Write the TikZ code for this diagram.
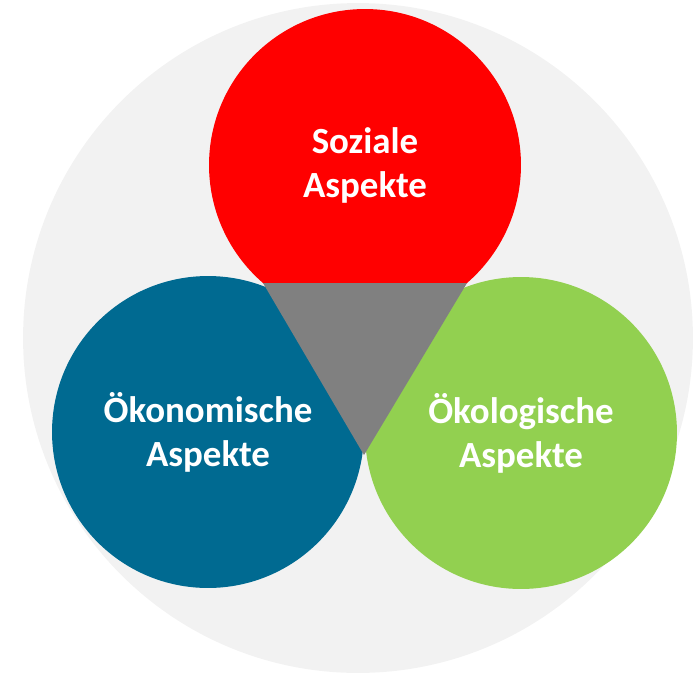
\documentclass[tikz,border=0pt]{standalone}
\usepackage{fontspec}
\setmainfont{Carlito}

\definecolor{sozred}{RGB}{255,0,0}
\definecolor{oekblue}{RGB}{0,106,145}
\definecolor{oekgreen}{RGB}{146,208,80}
\definecolor{midgray}{RGB}{128,128,128}
\definecolor{bggray}{RGB}{242,242,242}

\begin{document}
\begin{tikzpicture}[
  x=0.02cm, y=-0.02cm,
  aspect/.style = {circle, inner sep=0pt, minimum size=6.24cm, text=white,
                   align=center, font=\fontsize{21}{25}\selectfont\bfseries},
]
\useasboundingbox (0,0) rectangle (697,677);

%% ---- background disc -----------------------------------------------------
\fill[bggray] (358,338) circle[radius=6.7cm];

%% ---- the three aspects ---------------------------------------------------
\node[aspect, fill=oekblue]  (oekonomie) at (208,432) {Ökonomische\\Aspekte};
\node[aspect, fill=oekgreen] (oekologie) at (521,433) {Ökologische\\Aspekte};
\node[aspect, fill=sozred]   (soziales)  at (365,165) {Soziale\\Aspekte};

%% ---- centre triangle -----------------------------------------------------
\coordinate (tl) at (263,283);
\coordinate (tr) at (467,283);
\coordinate (tb) at (364,455);
\fill[midgray] (tl) -- (tr) -- (tb) -- cycle;

\end{tikzpicture}
\end{document}
